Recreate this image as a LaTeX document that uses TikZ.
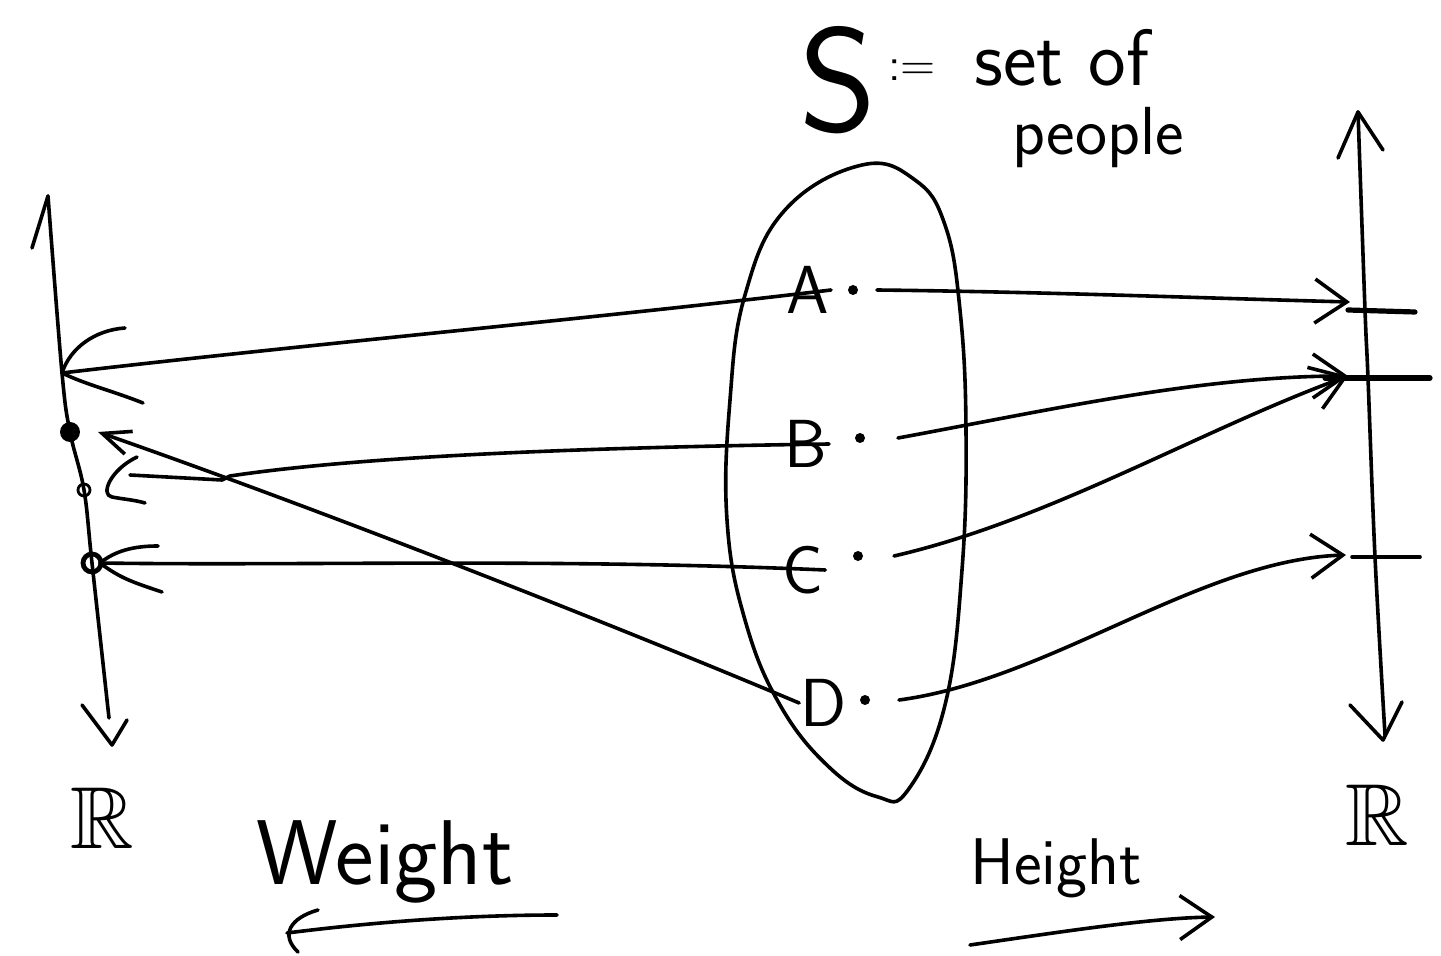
\documentclass[tikz,border=0pt]{standalone}
\usepackage{fontspec}
\usepackage{amssymb}
\usetikzlibrary{arrows.meta}
\begin{document}
\begin{tikzpicture}[x=0.5pt,y=-0.5pt,
  line width=1.8pt, line cap=round, line join=round,
  lett/.style={font=\sffamily\fontsize{34}{34}\selectfont, inner sep=0pt},
  txt/.style={font=\sffamily\fontsize{#1}{#1}\selectfont, inner sep=0pt},
  pdot/.style={circle, fill, inner sep=0pt, minimum size=5pt},
  barb/.style={-{Straight Barb[length=16pt,width=22pt]}},
  smallbarb/.style={-{Straight Barb[length=14pt,width=12pt]}}]
\useasboundingbox (0,0) rectangle (1441,956);

% ---- set S ----
\draw plot[smooth cycle, tension=0.7] coordinates {
  (862,165) (915,180) (945,225) (960,310) (966,430) (962,570)
  (945,705) (908,790) (878,797) (830,768) (780,705) (745,620)
  (727,520) (730,400) (745,295) (785,210)};

\node[lett] (A) at (808,290) {A};
\node[lett] (B) at (806,444) {B};
\node[lett] (C) at (803,570) {C};
\node[lett] (D) at (824,703) {D};
\node[pdot] (a) at (853,290) {};
\node[pdot] (b) at (860,438) {};
\node[pdot] (c) at (858,556) {};
\node[pdot] (d) at (865,700) {};

% ---- left axis (weight) ----
\coordinate (ltop) at (48,196);
\coordinate (lA) at (62,373);
\coordinate (lD) at (70,432);
\coordinate (lB) at (84,490);
\coordinate (lC) at (92,563);
\coordinate (lbot) at (109,718);
\draw plot[smooth, tension=0.6] coordinates {(ltop) (lA) (lD) (lB) (lC) (lbot)};
\draw (32,248) -- (ltop);
\draw (82,705) -- (112,745) -- (127,720);
\node[circle, fill, inner sep=0pt, minimum width=8pt, minimum height=10pt] (wD) at (lD) {};
\node[circle, draw, line width=1.4pt, inner sep=0pt, minimum size=6pt] (wB) at (lB) {};
\node[circle, draw, line width=2.4pt, inner sep=0pt, minimum size=9pt] (wC) at (lC) {};

% ---- right axis (height) ----
\coordinate (rtop) at (1358,112);
\coordinate (rA) at (1365,310);
\coordinate (rB) at (1368,378);
\coordinate (rC) at (1375,557);
\coordinate (rbot) at (1385,735);
\draw plot[smooth, tension=0.6] coordinates {(rtop) (rA) (rB) (rC) (rbot)};
\draw (1338,158) -- (rtop) -- (1383,150);
\draw (1350,705) -- (1383,740) -- (1402,702);
\draw[line width=2.6pt] (1348,310) -- (1415,312);
\draw[line width=2.6pt] (1325,378) -- (1430,378);
\draw (1352,557) -- (1420,557);
\coordinate (hA) at (1350,302);
\coordinate (hB) at (1348,376);
\coordinate (hC) at (1346,555);

% ---- weight connectors (to the left) ----
\draw (A.east) .. controls (600,318) and (300,345) .. (lA);
\draw (lA) ++(63,-45) .. controls +(-30,2) and +(8,-25) .. (lA);
\draw (lA) .. controls +(25,12) and +(-30,-12) .. (143,403);

\draw[smallbarb] (D.west) .. controls (650,640) and (350,520) .. (98,432);

\draw (B.east) .. controls (550,448) and (350,458) .. (230,476)
  -- (222,480) -- (130,475);
\draw (137,457) .. controls (110,470) and (100,495) .. (112,497)
  .. controls (122,499) and (135,500) .. (145,503);

\draw (C.east) .. controls (550,558) and (300,566) .. (100,563);
\draw (100,563) .. controls +(15,-12) and +(-25,0) .. (158,546);
\draw (100,563) .. controls +(20,15) and +(-30,-10) .. (162,592);

% ---- height connectors (to the right) ----
\draw[barb] ([xshift=12pt]a.center) .. controls (1050,292) and (1200,298) .. (hA);
\draw[barb] ([xshift=19pt]b.center) .. controls (1050,410) and (1200,376) .. (hB);
\draw[barb] ([xshift=18pt]c.center) .. controls (1050,520) and (1200,430) .. (hB);
\draw[barb] ([xshift=17pt]d.center) .. controls (1050,680) and (1200,560) .. (hC);

% ---- titles ----
\node[txt=74] (S) at (838,80) {S};
\node[txt=24] (def) at (912,70) {:=};
\node[txt=40] (setof) at (1062,58) {set of};
\node[txt=34] (people) at (1098,138) {people};

\node[font=\fontsize{44}{44}\selectfont, inner sep=0pt] (Rl) at (102,818) {$\mathbb{R}$};
\node[font=\fontsize{44}{44}\selectfont, inner sep=0pt] (Rr) at (1377,815) {$\mathbb{R}$};

\node[txt=46] (weight) at (385,862) {Weight};
\node[txt=33] (height) at (1056,868) {Height};

\coordinate (w1) at (557,915);
\coordinate (w2) at (287,933);
\draw (w1) .. controls (450,915) and (350,925) .. (w2);
\draw (318,910) .. controls (290,918) and (280,935) .. (298,952);

\coordinate (h1) at (970,945);
\coordinate (h2) at (1215,917);
\draw[barb] (h1) .. controls (1060,932) and (1150,918) .. (h2);
\end{tikzpicture}
\end{document}
